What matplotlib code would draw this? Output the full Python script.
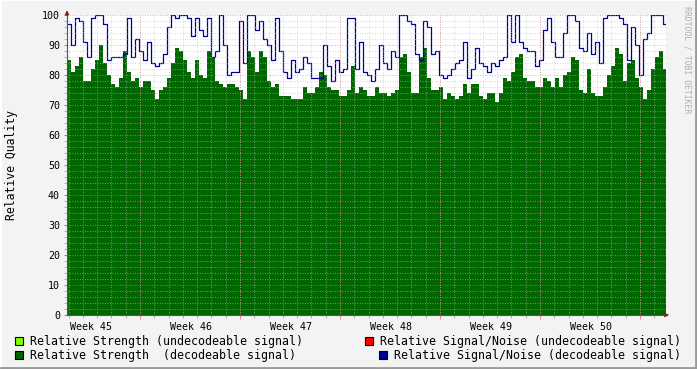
#!/usr/bin/env python3

# rrdtool-style quality graph, six weeks
import matplotlib.pyplot as plt
import numpy as np
from matplotlib.patches import Rectangle
from matplotlib.lines import Line2D

# samples every ~6.7 h (4 px of the original graph), 150 per series
strength = [85, 81, 83, 86, 78, 78, 82, 85, 90, 84, 80, 77, 76, 79, 88, 81, 78, 79, 76, 78,
            78, 75, 72, 75, 76, 79, 84, 89, 88, 85,
            81, 79, 85, 80, 79, 88, 86, 78, 77, 76, 77, 77, 76, 75, 72, 88, 86, 81, 88, 86,
            78, 76, 77, 73, 73, 73, 72, 72, 72, 76,
            74, 74, 76, 81, 80, 76, 75, 75, 73, 73, 75, 83, 74, 76, 75, 73, 73, 76, 74, 74,
            73, 74, 75, 86, 87, 81, 74, 74, 86, 89,
            79, 75, 75, 76, 72, 74, 73, 72, 73, 77, 74, 77, 77, 73, 72, 74, 74, 71, 74, 79,
            78, 81, 86, 87, 79, 78, 78, 76, 76, 79,
            78, 76, 79, 76, 80, 81, 86, 85, 75, 74, 82, 74, 73, 73, 76, 80, 83, 89, 87, 78,
            84, 85, 79, 76, 72, 75, 82, 86, 88, 82]

snr = [97, 90, 99, 98, 91, 86, 99, 100, 100, 97, 85, 86, 86, 86, 87, 99, 86, 92, 88, 85,
       91, 84, 83, 84, 87, 96, 100, 99, 100, 100,
       99, 93, 99, 95, 93, 99, 86, 88, 100, 90, 80, 81, 81, 98, 84, 100, 100, 95, 98, 92,
       90, 85, 99, 88, 81, 79, 85, 81, 82, 86,
       84, 79, 79, 79, 90, 83, 78, 85, 81, 82, 99, 99, 82, 91, 81, 80, 78, 82, 90, 84,
       82, 88, 86, 100, 100, 98, 97, 87, 85, 98,
       96, 87, 88, 80, 79, 80, 82, 84, 85, 91, 79, 82, 89, 84, 83, 81, 84, 83, 85, 86,
       100, 91, 100, 91, 89, 88, 88, 83, 85, 95,
       99, 91, 86, 86, 94, 100, 100, 98, 89, 88, 94, 87, 91, 84, 99, 100, 100, 100, 99, 97,
       85, 96, 90, 80, 92, 94, 100, 100, 100, 97]

week_labels = ['Week 45', 'Week 46', 'Week 47', 'Week 48', 'Week 49', 'Week 50']

# x in days from the graph start
step = 0.28
span = 41.93
first_week = 5.11
x = np.arange(len(strength)) * step
xs = np.append(x, span)
g = np.append(strength, strength[-1])
b = np.append(snr, snr[-1])

mono = 'DejaVu Sans Mono'
fig = plt.figure(figsize=(6.97, 3.69), dpi=100, facecolor='#f3f3f3')
ax = fig.add_axes([67/697, 54/369, 599/697, 300/369])
ax.set_facecolor('white')

ax.fill_between(xs, 0, g, step='post', color='#006600', lw=0, zorder=2)
ax.step(xs, b, where='post', color='#000099', lw=0.9, zorder=3)

ax.set_xlim(0, span)
ax.set_ylim(0, 100)

# grid: minor gray dotted, major reddish dotted
for v in np.arange(2, 100, 2):
    if v % 10:
        ax.axhline(v, color='#bbbbbb', lw=0.6, ls=(0, (1, 2)), alpha=0.8, zorder=4)
for v in np.arange(10, 101, 10):
    ax.axhline(v, color='#e08080', lw=0.6, ls=(0, (1, 2)), alpha=0.9, zorder=4)
days = np.arange(first_week - 7, span, 1.0)
for d in days:
    if d > 0:
        ax.axvline(d, color='#bbbbbb', lw=0.6, ls=(0, (1, 2)), alpha=0.8, zorder=4)
weeks = np.arange(first_week, span, 7.0)
for d in weeks:
    ax.axvline(d, color='#e08080', lw=0.6, ls=(0, (1, 2)), alpha=0.9, zorder=4)

for s in ['top', 'right']:
    ax.spines[s].set_visible(False)
for s in ['left', 'bottom']:
    ax.spines[s].set_color('#555555')
    ax.spines[s].set_linewidth(0.8)
    ax.spines[s].set_zorder(5)

# arrows at the ends of the axes
ax.annotate('', xy=(0, 1.025), xytext=(0, 0.99), xycoords='axes fraction',
            arrowprops=dict(arrowstyle='-|>', color='#8b1a1a', lw=0.8, mutation_scale=6),
            annotation_clip=False)
ax.annotate('', xy=(1.01, 0), xytext=(0.995, 0), xycoords='axes fraction',
            arrowprops=dict(arrowstyle='-|>', color='#8b1a1a', lw=0.8, mutation_scale=6),
            annotation_clip=False)

ax.set_yticks(np.arange(0, 101, 10))
ax.set_yticklabels([str(v) for v in range(0, 101, 10)], fontfamily=mono, fontsize=7.2)
ax.tick_params(axis='y', length=2, width=0.6, color='#aa6666', pad=3)
ax.set_yticks(np.arange(0, 101, 2), minor=True)
ax.tick_params(axis='y', which='minor', length=2, width=0.5, color='#999999')

ax.set_xticks(weeks)
ax.set_xticklabels([])
ax.tick_params(axis='x', length=3, width=0.6, color='#dd7777')
ax.set_xticks(days[days > 0], minor=True)
ax.tick_params(axis='x', which='minor', length=2, width=0.5, color='#999999')
for i, lab in enumerate(week_labels):
    ax.text(first_week - 3.45 + 7 * i, -2.3, lab, ha='center', va='top',
            fontfamily=mono, fontsize=7.2, color='black')

fig.text(12/697, 1 - 165/369, 'Relative Quality', rotation=90, ha='center', va='center',
         fontfamily=mono, fontsize=8.3)
fig.text(687/697, 1 - 60/369, 'RRDTOOL / TOBI OETIKER', rotation=270, ha='center',
         va='center', fontfamily=mono, fontsize=5.9, color='#b0b0b0')

# legend
legend = [(19, 341, '#80ff00', 'Relative Strength (undecodeable signal)'),
          (19, 355, '#006600', 'Relative Strength  (decodeable signal)'),
          (369, 341, '#ff0000', 'Relative Signal/Noise (undecodeable signal)'),
          (383, 355, '#000099', 'Relative Signal/Noise (decodeable signal)')]
for px, py, col, txt in legend:
    fig.patches.append(Rectangle(((px - 4) / 697, 1 - (py + 4) / 369), 8/697, 8/369,
                                 transform=fig.transFigure, facecolor=col,
                                 edgecolor='black', lw=0.8))
    fig.text((px + 11) / 697, 1 - py / 369, txt, ha='left', va='center',
             fontfamily=mono, fontsize=8.4)

# 3d frame: light top/left, dark bottom/right
fig.lines.append(Line2D([0.001, 0.001, 0.999], [0.001, 0.999, 0.999], transform=fig.transFigure,
                        color='#ffffff', lw=1.5))
fig.lines.append(Line2D([0.001, 0.998, 0.998], [0.003, 0.003, 0.999], transform=fig.transFigure,
                        color='#999999', lw=2))

fig.savefig('out.png', dpi=100, facecolor=fig.get_facecolor())
